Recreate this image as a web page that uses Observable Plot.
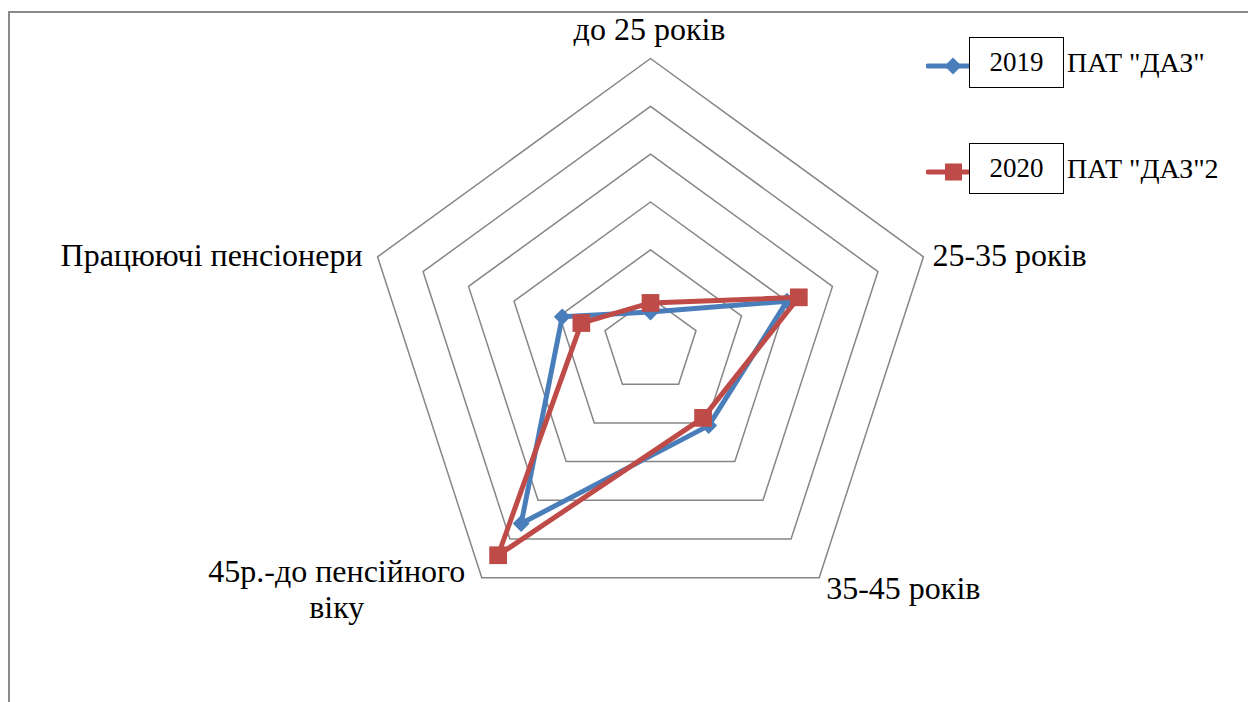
<!DOCTYPE html>
<html>
<head>
<meta charset="utf-8">
<script src="https://cdn.jsdelivr.net/npm/d3@7"></script>
<script src="https://cdn.jsdelivr.net/npm/@observablehq/plot@0.6"></script>
<style>
  html, body { margin: 0; padding: 0; background: #fff; }
  #wrap { position: relative; width: 1248px; height: 702px; overflow: hidden; font-family: 'Liberation Serif', 'Times New Roman', serif; }
  #frame { position: absolute; left: 8px; top: 11px; right: -4px; bottom: -4px; border-top: 2px solid #8a8a8a; border-left: 2px solid #8a8a8a; }
  #chart { position: absolute; left: 0; top: 0; }
  .legend-row { position: absolute; left: 926px; display: flex; align-items: center; height: 51px; }
  .legend-box { box-sizing: border-box; width: 95px; height: 51px; border: 1.5px solid #000; display: flex; align-items: center; justify-content: center; font-size: 27px; color: #000; }
  .legend-label { margin-left: 3px; font-size: 28px; color: #000; white-space: nowrap; }
</style>
</head>
<body>
<div id="wrap">
  <div id="frame"></div>
  <div id="chart"></div>
</div>
<script>
// Age groups (radar axes, clockwise from the top)
const categories = ["до 25 років", "25-35 років", "35-45 років", "45р.-до пенсійного віку", "Працюючі пенсіонери"];
// Series
const seriesYears = ["2019", "2020"];
const seriesNames = ['ПАТ "ДАЗ"', 'ПАТ "ДАЗ"2'];
const values2019 = [7.0, 30.0, 20.7, 46.0, 19.4];
const values2020 = [8.9, 32.6, 18.7, 54.2, 15.2];
// Grid rings
const ringTicks = [10, 20, 30, 40, 50, 60];

const serifFont = "'Liberation Serif', 'Times New Roman', serif";
const W = 1248, H = 702;
const cx = 650, cy = 345, R = 287;
const maxValue = d3.max(ringTicks);
const k = R / maxValue; // pixels per unit
const n = categories.length;
const angle = i => (2 * Math.PI * i) / n;
const polar = (r, i) => ({x: r * Math.sin(angle(i)), y: r * Math.cos(angle(i))});

// closed polygon for one ring
const ringPoints = ringTicks.flatMap(t =>
  d3.range(n + 1).map(i => ({ring: t, ...polar(t, i % n)}))
);

function seriesPoints(values) {
  return d3.range(n + 1).map(i => ({cat: categories[i % n], value: values[i % n], ...polar(values[i % n], i % n)}));
}
const pts2019 = seriesPoints(values2019);
const pts2020 = seriesPoints(values2020);

const colors = ["#4a7ebb", "#be4b48"];

// label placement around each outer vertex
const labelLayout = [
  {anchor: "middle", dx: -1, dy: -30},
  {anchor: "start", dx: 9, dy: -2},
  {anchor: "start", dx: 7, dy: 10},
  {anchor: "middle", dx: -145, dy: 11},
  {anchor: "end", dx: -15, dy: -2}
];
const labelData = categories.map((c, i) => ({label: c, i, ...polar(maxValue, i)}));
const wrapLast = s => s.split(" ").length > 2 ? s.replace(/ (\S+)$/, "\n$1") : s;

const labelMarks = labelData.map((d, i) => Plot.text([d], {
  x: "x", y: "y",
  text: dd => (dd.i === 3 ? wrapLast(dd.label) : dd.label),
  textAnchor: labelLayout[i].anchor,
  lineAnchor: "middle",
  dx: labelLayout[i].dx,
  dy: labelLayout[i].dy,
  fontSize: 32,
  lineHeight: 1.11,
  fontFamily: serifFont,
  fill: "#000"
}));

const chart = Plot.plot({
  width: W,
  height: H,
  margin: 0,
  x: {domain: [-cx / k, (W - cx) / k], axis: null},
  y: {domain: [-(H - cy) / k, cy / k], axis: null},
  style: {background: "transparent", overflow: "visible", fontFamily: serifFont},
  marks: [
    Plot.line(ringPoints, {x: "x", y: "y", z: "ring", stroke: "#868686", strokeWidth: 1.5}),
    Plot.line(pts2019, {x: "x", y: "y", stroke: colors[0], strokeWidth: 5, strokeLinejoin: "round", strokeLinecap: "round"}),
    Plot.dot(pts2019.slice(0, n), {x: "x", y: "y", symbol: "diamond2", r: 7.6, fill: colors[0], stroke: "none"}),
    Plot.line(pts2020, {x: "x", y: "y", stroke: colors[1], strokeWidth: 5, strokeLinejoin: "round", strokeLinecap: "round"}),
    Plot.dot(pts2020.slice(0, n), {x: "x", y: "y", symbol: "square", r: 10, fill: colors[1], stroke: "none"}),
    ...labelMarks
  ]
});
document.getElementById("chart").appendChild(chart);

// legend
const wrap = document.getElementById("wrap");
const rowTops = [37, 143];
seriesYears.forEach((yr, i) => {
  const row = document.createElement("div");
  row.className = "legend-row";
  row.style.top = rowTops[i] + "px";
  const marker = i === 0
    ? `<path d="M27,-8.5 L35.5,0 L27,8.5 L18.5,0 Z" fill="${colors[0]}"/>`
    : `<rect x="19" y="-8.5" width="17" height="17" fill="${colors[1]}"/>`;
  row.innerHTML =
    `<svg width="43" height="24" viewBox="0 -12 43 24" style="display:block;margin-top:6px"><line x1="2" y1="0" x2="43" y2="0" stroke="${colors[i]}" stroke-width="5" stroke-linecap="round"/>${marker}</svg>` +
    `<div class="legend-box">${yr}</div><span class="legend-label">${seriesNames[i]}</span>`;
  wrap.appendChild(row);
});
</script>
</body>
</html>
